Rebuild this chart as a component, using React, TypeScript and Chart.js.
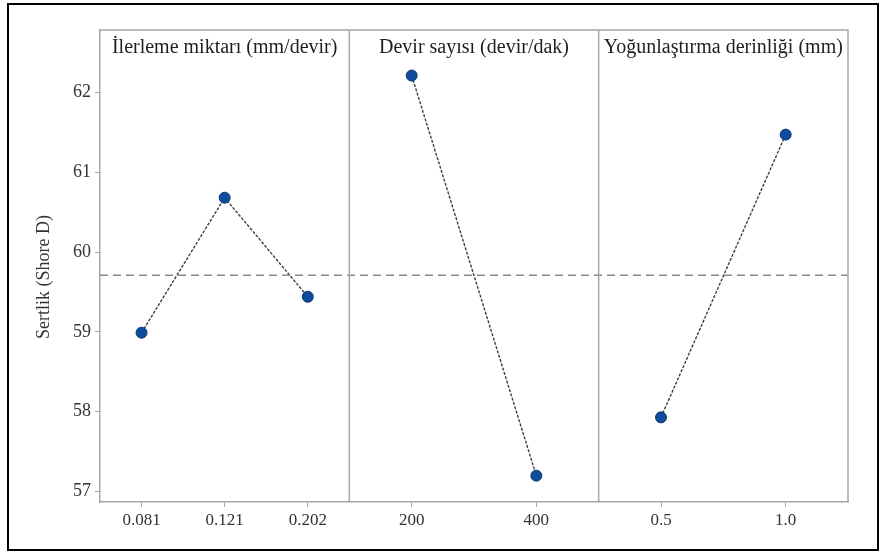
import React, { useEffect, useRef } from "react";
import { Chart, registerables } from "chart.js";

Chart.register(...registerables);

const panelTitles = ["İlerleme miktarı (mm/devir)", "Devir sayısı (devir/dak)", "Yoğunlaştırma derinliği (mm)"];
const feedLabels = ["0.081", "0.121", "0.202"];
const feedValues = [58.99, 60.68, 59.44];
const speedLabels = ["200", "400"];
const speedValues = [62.21, 57.2];
const depthLabels = ["0.5", "1.0"];
const depthValues = [57.93, 61.47];
const yTicks = [57, 58, 59, 60, 61, 62];
const grandMean = 59.71;
const yMin = 56.87;
const yMax = 62.78;
const yTitle = "Sertlik (Shore D)";

const FONT = "'Liberation Serif', 'Times New Roman', serif";
const FRAME = "#a6a6a6";
const POINT_FILL = "#0f4c9c";
const POINT_EDGE = "#0a3470";
const LINE = "#3c3f4c";

const panelPlugin = {
  id: "panelPlugin",
  afterDatasetsDraw(chart: any) {
    const { ctx, chartArea } = chart;
    const ys = chart.scales.y;
    const xs = ["x1", "x2", "x3"].map((id) => chart.scales[id]);
    ctx.save();
    // mean line
    const my = ys.getPixelForValue(grandMean);
    ctx.strokeStyle = "#8a8a8a";
    ctx.lineWidth = 1.5;
    ctx.setLineDash([8, 5]);
    ctx.beginPath();
    ctx.moveTo(chartArea.left, my);
    ctx.lineTo(chartArea.right, my);
    ctx.stroke();
    ctx.setLineDash([]);
    // frame + dividers
    ctx.strokeStyle = FRAME;
    ctx.lineWidth = 1.5;
    ctx.beginPath();
    ctx.moveTo(chartArea.left, chartArea.top);
    ctx.lineTo(chartArea.right, chartArea.top);
    ctx.lineTo(chartArea.right, chartArea.bottom);
    for (let i = 0; i < xs.length - 1; i++) {
      const x = xs[i].right;
      ctx.moveTo(x, chartArea.top);
      ctx.lineTo(x, chartArea.bottom);
    }
    ctx.stroke();
    // titles
    ctx.fillStyle = "#1e1e1e";
    ctx.font = `20px ${FONT}`;
    ctx.textAlign = "center";
    ctx.textBaseline = "middle";
    xs.forEach((s, i) => {
      ctx.fillText(panelTitles[i], (s.left + s.right) / 2, chartArea.top + 18);
    });
    // y axis title
    ctx.fillStyle = "#333";
    ctx.font = `18px ${FONT}`;
    ctx.translate(44, (chartArea.top + chartArea.bottom) / 2 + 11);
    ctx.rotate(-Math.PI / 2);
    ctx.fillText(yTitle, 0, 0);
    ctx.restore();
  },
};

function xAxis(labels: string[]) {
  return {
    type: "category",
    labels,
    position: "bottom",
    stack: "panels",
    stackWeight: 1,
    offset: true,
    grid: { display: true, drawOnChartArea: false, drawTicks: true, tickLength: 5, offset: false, color: FRAME },
    border: { display: true, color: FRAME, width: 1.5 },
    ticks: { color: "#333", font: { family: FONT, size: 17 }, padding: 3, maxRotation: 0 },
    afterFit(scale: any) {
      scale.height = 50;
    },
  };
}

function ds(labels: string[], values: number[], axis: string) {
  return {
    data: values,
    xAxisID: axis,
    yAxisID: "y",
    borderColor: LINE,
    borderWidth: 1.4,
    borderDash: [3, 1.5],
    pointRadius: 5.5,
    pointBackgroundColor: POINT_FILL,
    pointBorderColor: POINT_EDGE,
    pointBorderWidth: 1,
    fill: false,
    tension: 0,
  };
}

export default function App() {
  const ref = useRef<HTMLCanvasElement>(null);
  useEffect(() => {
    const chart = new Chart(ref.current as HTMLCanvasElement, {
      type: "line",
      data: {
        datasets: [
          ds(feedLabels, feedValues, "x1"),
          ds(speedLabels, speedValues, "x2"),
          ds(depthLabels, depthValues, "x3"),
        ] as any,
      },
      options: {
        animation: false,
        responsive: false,
        maintainAspectRatio: false,
        layout: { padding: { left: 0, top: 30, right: 32, bottom: 0 } },
        plugins: { legend: { display: false }, tooltip: { enabled: false } },
        scales: {
          x1: xAxis(feedLabels),
          x2: xAxis(speedLabels),
          x3: xAxis(depthLabels),
          y: {
            type: "linear",
            position: "left",
            min: yMin,
            max: yMax,
            afterBuildTicks(scale: any) {
              scale.ticks = yTicks.map((v) => ({ value: v }));
            },
            afterFit(scale: any) {
              scale.width = 100;
            },
            grid: { display: true, drawOnChartArea: false, drawTicks: true, tickLength: 5, color: FRAME },
            border: { display: true, color: FRAME, width: 1.5 },
            ticks: { color: "#333", font: { family: FONT, size: 18 }, padding: 4 },
            title: { display: false },
          },
        } as any,
      },
      plugins: [panelPlugin],
    });
    return () => chart.destroy();
  }, []);
  return (
    <div style={{ position: "absolute", left: 0, top: 0, width: 880, height: 552, background: "#fff" }}>
      <canvas ref={ref} width={880} height={552} style={{ position: "absolute", left: 0, top: 0 }} />
      <div
        style={{
          position: "absolute",
          left: 7,
          top: 3,
          width: 872,
          height: 548,
          border: "2px solid #000",
          boxSizing: "border-box",
          pointerEvents: "none",
        }}
      />
    </div>
  );
}
